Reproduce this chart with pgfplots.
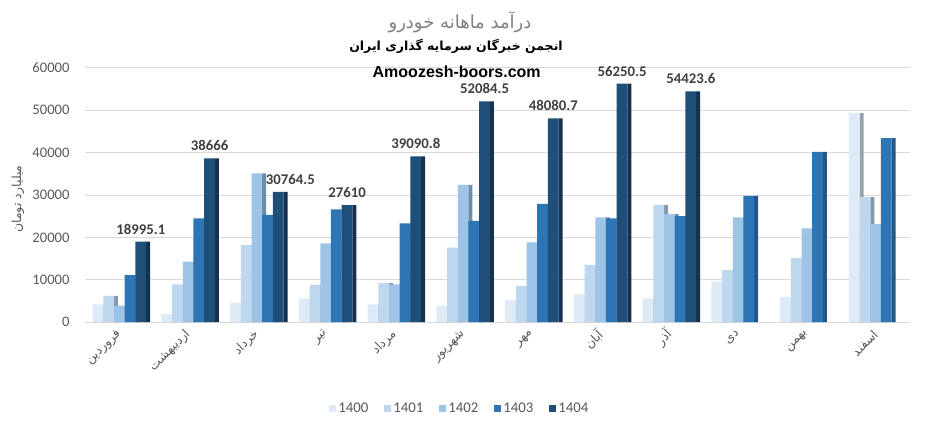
\documentclass[border=0pt]{standalone}
\usepackage{pgfplots}
\pgfplotsset{compat=1.18}
\usepackage{pgfplotstable}
\usepackage{fontspec}
\setmainfont{Carlito}
\newfontfamily\fa[Script=Arabic]{DejaVu Sans}
\newfontfamily\arial{Liberation Sans}
\TeXXeTstate=1
\newcommand\rl[1]{{\fa\beginR #1\endR}}

\definecolor{cA}{HTML}{DEEBF7}
\definecolor{cB}{HTML}{BDD7EE}
\definecolor{cC}{HTML}{9DC3E6}
\definecolor{cD}{HTML}{2E75B6}
\definecolor{cE}{HTML}{1F4E79}
\definecolor{sA}{HTML}{97A1AB}
\definecolor{sB}{HTML}{8597A8}
\definecolor{sC}{HTML}{6E8BAA}
\definecolor{sD}{HTML}{22578A}
\definecolor{sE}{HTML}{15314F}
\definecolor{tickgray}{HTML}{595959}
\definecolor{labgray}{HTML}{404040}

% monthly revenue, billion toman
\pgfplotstableread{
x y
0 4200
1 1900
2 4500
3 5600
4 4200
5 3900
6 5200
7 6600
8 5600
9 9600
10 5900
11 49300
}\yA
\pgfplotstableread{
x y
0 6200
1 8900
2 18200
3 8800
4 9200
5 17600
6 8500
7 13500
8 27600
9 12300
10 15100
11 29500
}\yB
\pgfplotstableread{
x y
0 3900
1 14300
2 35100
3 18600
4 8900
5 32400
6 18800
7 24700
8 25500
9 24700
10 22100
11 23200
}\yC
\pgfplotstableread{
x y
0 11100
1 24500
2 25300
3 26600
4 23300
5 23900
6 27900
7 24500
8 25000
9 29800
10 40200
11 43400
}\yD
\pgfplotstableread{
x y lab dx
0 18995.1 18995.1 0
1 38666 38666 0
2 30764.5 30764.5 12
3 27610 27610 0
4 39090.8 39090.8 0
5 52084.5 52084.5 0
6 48080.7 48080.7 0
7 56250.5 56250.5 0
8 54423.6 54423.6 0
}\yE

\pgfplotsset{
  side/.style={ybar, bar width=4pt, draw=none, forget plot},
  main/.style={ybar, bar width=10.7pt, draw=none,
    legend image code/.code={\fill[##1,draw=none] (0pt,-3.5pt) rectangle (7pt,3.5pt);}},
}

\begin{document}
\begin{tikzpicture}
\useasboundingbox (0,0) rectangle (942pt,428pt);
\begin{axis}[
  at={(85pt,105.8pt)}, anchor=south west,
  scale only axis, width=825pt, height=254.4pt,
  xmin=-0.5, xmax=11.5, ymin=0, ymax=60000,
  clip=false,
  axis line style={draw=none},
  tick style={draw=none},
  ymajorgrids, grid style={color=black!15, line width=0.8pt},
  ytick={0,10000,...,60000},
  scaled y ticks=false,
  /pgf/number format/1000 sep={},
  /pgf/number format/assume math mode=true,
  yticklabel style={font=\fontsize{14.6}{17}\selectfont, color=tickgray, xshift=-12pt},
  xtick={0,...,11},
  xticklabels={\rl{فروردین},\rl{اردیبهشت},\rl{خرداد},\rl{تیر},\rl{مرداد},\rl{شهریور},\rl{مهر},\rl{آبان},\rl{آذر},\rl{دی},\rl{بهمن},\rl{اسفند}},
  xticklabel style={font=\fontsize{12.5}{14}\selectfont, color=tickgray, inner sep=0pt,
    xshift=0pt, yshift=6pt, rotate=45, anchor=east},
  xticklabel shift=16pt,
  legend style={at={(axis description cs:0.4545,-0.339)}, anchor=center,
    draw=none, fill=none, legend columns=-1,
    font=\fontsize{14.8}{17}\selectfont, text=tickgray,
    /tikz/every even column/.append style={column sep=14pt},
    legend cell align=left},
]
\addplot[side, fill=sA, bar shift=-14.05pt] table[x=x,y=y] {\yA};
\addplot[main, fill=cA, bar shift=-21.4pt] table[x=x,y=y] {\yA};
\addplot[side, fill=sB, bar shift=-3.35pt] table[x=x,y=y] {\yB};
\addplot[main, fill=cB, bar shift=-10.7pt] table[x=x,y=y] {\yB};
\addplot[side, fill=sC, bar shift=7.35pt] table[x=x,y=y] {\yC};
\addplot[main, fill=cC, bar shift=0pt] table[x=x,y=y] {\yC};
\addplot[side, fill=sD, bar shift=18.05pt] table[x=x,y=y] {\yD};
\addplot[main, fill=cD, bar shift=10.7pt] table[x=x,y=y] {\yD};
\addplot[side, fill=sE, bar shift=28.75pt] table[x=x,y=y] {\yE};
\addplot[main, fill=cE, bar shift=21.4pt,
  point meta=explicit symbolic,
  visualization depends on={\thisrow{dx} \as \dx},
  nodes near coords,
  every node near coord/.append style={font=\fontsize{14.8}{17}\selectfont\bfseries,
    color=labgray, yshift=4pt, xshift=21.4pt+\dx pt},
] table[x=x,y=y,meta=lab] {\yE};
\legend{1400,1401,1402,1403,1404}
\end{axis}
\node[color=black!50, font=\fontsize{18}{20}\selectfont] at (460pt,406pt) {\rl{درآمد ماهانه خودرو}};
\node[font=\fontsize{12.5}{15}\selectfont\bfseries] at (456pt,382pt) {\rl{انجمن خبرگان سرمایه گذاری ایران}};
\node[font=\arial\fontsize{16}{18}\selectfont\bfseries] at (456.7pt,356pt) {Amoozesh-boors.com};
\node[color=tickgray, rotate=90, font=\fontsize{12.5}{15}\selectfont] at (18pt,229pt) {\rl{میلیارد تومان}};
\end{tikzpicture}
\end{document}
